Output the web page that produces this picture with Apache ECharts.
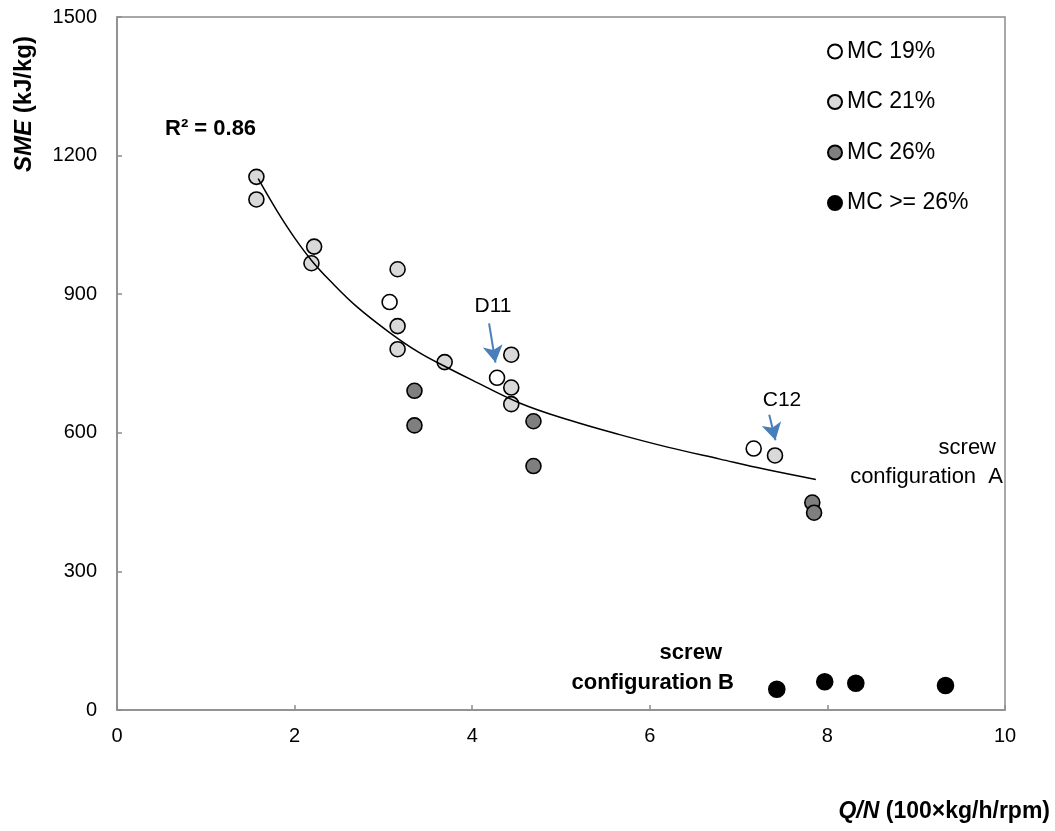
<!DOCTYPE html>
<html>
<head>
<meta charset="utf-8">
<script src="https://cdn.jsdelivr.net/npm/echarts@6/dist/echarts.min.js"></script>
<style>
  html, body { margin: 0; padding: 0; background: #fff; }
  #chart { width: 1055px; height: 831px; }
</style>
</head>
<body>
<div id="chart"></div>
<script>
// points: [Q/N, SME]
const mc19 = [[3.07, 883], [4.28, 719], [7.17, 566]];
const mc21 = [
  [1.57, 1154], [1.57, 1105], [2.22, 1003], [2.19, 967],
  [3.16, 954], [3.16, 831], [3.16, 781], [3.69, 753],
  [4.44, 769], [4.44, 698], [4.44, 662], [7.41, 551]
];
const mc26 = [[3.35, 691], [3.35, 616], [4.69, 625], [4.69, 528], [7.83, 449], [7.85, 427]];
const mc26plus = [[7.43, 45], [7.97, 61], [8.32, 58], [9.33, 53]];
// trend line (power fit, R² = 0.86)
const trendX = [1.59, 1.8, 2.0, 2.2, 2.4, 2.7, 3.07, 3.4, 3.69, 4.0, 4.54, 5.1, 5.66, 6.2, 6.79, 7.3, 7.87];
const trendY = [1150, 1081, 1022, 971, 929, 873, 817, 774, 744, 714, 664, 627, 596, 569, 543, 521, 499];
// annotation arrows [from, to] in data units
const arrowD11 = [[4.19, 837], [4.262, 752]];
const arrowC12 = [[7.345, 639], [7.415, 584]];

const xTicks = [0, 2, 4, 6, 8, 10];
const yTicks = [0, 300, 600, 900, 1200, 1500];

const FONT = "'Liberation Sans', Arial, Helvetica, sans-serif";
const myChart = echarts.init(document.getElementById("chart"));

function scatter(name, data, fill, size) {
  return {
    name: name,
    type: "scatter",
    data: data,
    symbol: "circle",
    symbolSize: size,
    itemStyle: { color: fill, borderColor: "#000", borderWidth: 1.6, opacity: 1 },
    z: 3
  };
}

const option = {
  animation: false,
  backgroundColor: "#fff",
  textStyle: { fontFamily: FONT },
  grid: {
    left: 117, right: 50, top: 17, bottom: 121,
    show: true, borderColor: "#8c8c8c", borderWidth: 1.5
  },
  legend: {
    data: ["MC 19%", "MC 21%", "MC 26%", "MC >= 26%"],
    orient: "vertical",
    left: 822,
    top: 35,
    itemWidth: 14,
    itemHeight: 14,
    itemGap: 27.5,
    icon: "circle",
    selectedMode: false,
    textStyle: { fontSize: 23, color: "#000", fontFamily: FONT }
  },
  xAxis: {
    type: "value",
    min: xTicks[0],
    max: xTicks[xTicks.length - 1],
    interval: 2,
    splitLine: { show: false },
    axisLine: { lineStyle: { color: "#8c8c8c", width: 1.5 } },
    axisTick: { inside: true, length: 5, lineStyle: { color: "#8c8c8c", width: 1.5 } },
    axisLabel: { fontSize: 20, color: "#000", margin: 16, fontFamily: FONT, formatter: v => String(v) }
  },
  yAxis: {
    type: "value",
    min: yTicks[0],
    max: yTicks[yTicks.length - 1],
    interval: 300,
    splitLine: { show: false },
    axisLine: { show: true, lineStyle: { color: "#8c8c8c", width: 1.5 } },
    axisTick: { show: true, inside: true, length: 5, lineStyle: { color: "#8c8c8c", width: 1.5 } },
    axisLabel: { fontSize: 20, color: "#000", margin: 20, fontFamily: FONT, formatter: v => String(v) }
  },
  series: [
    scatter("MC 19%", mc19, "#ffffff", 15),
    scatter("MC 21%", mc21, "#d9d9d9", 15),
    scatter("MC 26%", mc26, "#7f7f7f", 15),
    scatter("MC >= 26%", mc26plus, "#000000", 16),
    {
      name: "trend",
      type: "line",
      data: trendX.map((x, i) => [x, trendY[i]]),
      smooth: 0.4,
      showSymbol: false,
      lineStyle: { color: "#000", width: 1.5 },
      z: 4,
      markLine: {
        silent: true,
        symbol: ["none", "arrow"],
        symbolSize: [15, 17],
        label: { show: false },
        lineStyle: { color: "#4a7ebb", width: 2, type: "solid" },
        data: [
          [{ coord: arrowD11[0] }, { coord: arrowD11[1] }],
          [{ coord: arrowC12[0] }, { coord: arrowC12[1] }]
        ]
      }
    }
  ],
  graphic: [
    {
      type: "text", x: 24, y: 104, rotation: Math.PI / 2,
      style: {
        text: "{i|SME} (kJ/kg)", align: "center", verticalAlign: "middle",
        font: "bold 24px " + FONT, fill: "#000",
        rich: { i: { fontStyle: "italic", fontWeight: "bold", fontSize: 24, fontFamily: FONT } }
      }
    },
    {
      type: "text", x: 1050, y: 812,
      style: {
        text: "{i|Q/N} (100×kg/h/rpm)", align: "right", verticalAlign: "middle",
        font: "bold 23px " + FONT, fill: "#000",
        rich: { i: { fontStyle: "italic", fontWeight: "bold", fontSize: 23, fontFamily: FONT } }
      }
    },
    {
      type: "text", x: 165, y: 129,
      style: { text: "R² = 0.86", align: "left", verticalAlign: "middle", font: "bold 22px " + FONT, fill: "#000" }
    },
    {
      type: "text", x: 493, y: 306,
      style: { text: "D11", align: "center", verticalAlign: "middle", font: "21px " + FONT, fill: "#000" }
    },
    {
      type: "text", x: 782, y: 400,
      style: { text: "C12", align: "center", verticalAlign: "middle", font: "21px " + FONT, fill: "#000" }
    },
    {
      type: "text", x: 996, y: 448,
      style: { text: "screw", align: "right", verticalAlign: "middle", font: "22px " + FONT, fill: "#000" }
    },
    {
      type: "text", x: 1003, y: 477,
      style: { text: "configuration  A", align: "right", verticalAlign: "middle", font: "22px " + FONT, fill: "#000" }
    },
    {
      type: "text", x: 722, y: 653,
      style: { text: "screw", align: "right", verticalAlign: "middle", font: "bold 22px " + FONT, fill: "#000" }
    },
    {
      type: "text", x: 734, y: 683,
      style: { text: "configuration B", align: "right", verticalAlign: "middle", font: "bold 22px " + FONT, fill: "#000" }
    }
  ]
};

myChart.setOption(option);
window.addEventListener("resize", () => myChart.resize(), false);
</script>
</body>
</html>
